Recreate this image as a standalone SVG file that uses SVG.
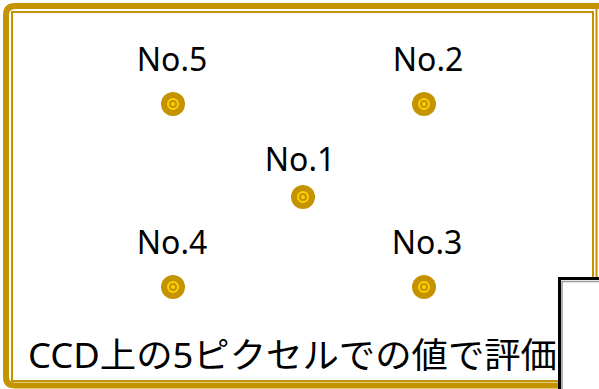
<svg xmlns="http://www.w3.org/2000/svg" width="599" height="389" viewBox="0 0 599 389">
<defs>
<style>
.lbl{font-family:"Noto Sans","Liberation Sans",sans-serif;font-size:32px;fill:#000;text-anchor:middle}
.cap{font-family:"Noto Sans","Noto Sans CJK JP",sans-serif;font-size:35px;fill:#000}
.gold{fill:none;stroke:#C49300}
</style>
<g id="pin">
<circle r="12" fill="#C49300"/>
<circle r="5" fill="none" stroke="#FFD000" stroke-width="2"/>
<circle r="2" fill="#FFD000"/>
</g>
</defs>
<rect width="599" height="389" fill="#fff"/>
<g id="frame">
<path class="gold" stroke-width="6" d="M599 6 H15 Q6 6 6 15 V377 Q6 385.5 15 385.5 H599"/>
<path class="gold" stroke-width="2" d="M593 381 H12 V12 H593 Z"/>
<path class="gold" stroke-width="2" d="M596.5 9 V389"/>
</g>
<g id="n5"><text class="lbl" x="172" y="71">No.5</text><use href="#pin" x="173" y="104"/></g>
<g id="n2"><text class="lbl" x="428" y="71">No.2</text><use href="#pin" x="424" y="104"/></g>
<g id="n1"><text class="lbl" x="300" y="171">No.1</text><use href="#pin" x="303" y="197"/></g>
<g id="n4"><text class="lbl" x="172" y="254">No.4</text><use href="#pin" x="173" y="287"/></g>
<g id="n3"><text class="lbl" x="427" y="254">No.3</text><use href="#pin" x="424" y="287"/></g>
<g id="caption"><text class="cap" x="28" y="368" textLength="529" lengthAdjust="spacingAndGlyphs">CCD上の5ピクセルでの値で評価</text></g>
<g id="box">
<rect x="559.5" y="278.5" width="60" height="120" fill="#fff" stroke="#000" stroke-width="3"/>
<path d="M562 400 V281.5 H599" fill="none" stroke="#999" stroke-width="1.5"/>
</g>
<g id="connectors"/>
</svg>
